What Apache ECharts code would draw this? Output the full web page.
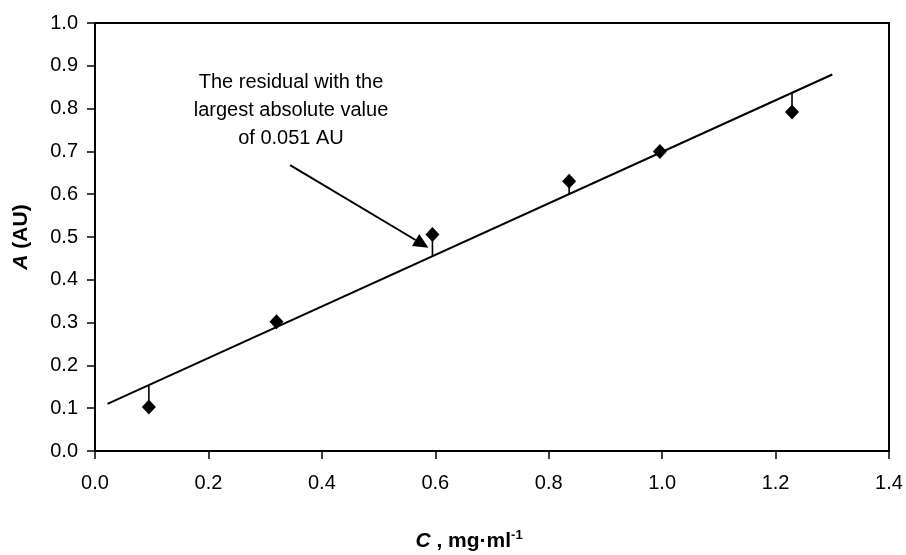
<!DOCTYPE html>
<html>
<head>
<meta charset="utf-8">
<script src="https://cdn.jsdelivr.net/npm/echarts@6/dist/echarts.min.js"></script>
<style>
  html, body { margin: 0; padding: 0; background: #fff; }
  #chart { width: 906px; height: 555px; }
</style>
</head>
<body>
<div id="chart"></div>
<script>
// Calibration data: concentration C (mg/ml) and measured absorbance A (AU)
const concentration = [0.095, 0.32, 0.595, 0.836, 0.996, 1.229];
const absorbance    = [0.103, 0.302, 0.506, 0.630, 0.700, 0.792];

// Least-squares calibration line A = intercept + slope * C
const fitIntercept = 0.097;
const fitSlope = 0.602;
const fitRange = [0.022, 1.30];

// Axis extents
const xMin = 0, xMax = 1.4, xStep = 0.2;
const yMin = 0, yMax = 1.0, yStep = 0.1;

const annotationText = 'The residual with the\nlargest absolute value\nof 0.051 AU';
// Arrow from the note to the point with the largest residual (data coords)
const arrowFrom = [0.344, 0.668];
const arrowTo = [0.588, 0.475];

const FONT = "'Liberation Sans', Arial, sans-serif";

const fitValue = c => fitIntercept + fitSlope * c;
const points = concentration.map((c, i) => [c, absorbance[i]]);
const fitLine = fitRange.map(c => [c, fitValue(c)]);

const chart = echarts.init(document.getElementById('chart'), null, { renderer: 'canvas' });

chart.setOption({
  animation: false,
  backgroundColor: '#fff',
  grid: {
    left: 95, right: 17, top: 23, bottom: 104,
    show: true, borderColor: '#000', borderWidth: 2, backgroundColor: 'transparent'
  },
  xAxis: {
    type: 'value', min: xMin, max: xMax, interval: xStep,
    axisLine: { show: true, onZero: false, lineStyle: { color: '#000', width: 2 } },
    axisTick: { show: true, inside: false, length: 8, lineStyle: { color: '#000', width: 1.5 } },
    splitLine: { show: false },
    axisLabel: {
      margin: 22, color: '#000', fontFamily: FONT, fontSize: 20,
      formatter: v => v.toFixed(1)
    }
  },
  yAxis: {
    type: 'value', min: yMin, max: yMax, interval: yStep,
    axisLine: { show: true, onZero: false, lineStyle: { color: '#000', width: 2 } },
    axisTick: { show: true, inside: false, length: 8, lineStyle: { color: '#000', width: 1.5 } },
    splitLine: { show: false },
    axisLabel: {
      margin: 17, color: '#000', fontFamily: FONT, fontSize: 20,
      formatter: v => v.toFixed(1)
    }
  },
  series: [
    {
      name: 'fit',
      type: 'line',
      data: fitLine,
      symbol: 'none',
      lineStyle: { color: '#000', width: 2 },
      z: 2
    },
    {
      name: 'residuals',
      type: 'custom',
      data: points,
      renderItem: (params, api) => {
        const c = api.value(0);
        const a = api.value(1);
        const p1 = api.coord([c, a]);
        const p2 = api.coord([c, fitValue(c)]);
        return {
          type: 'line',
          shape: { x1: p1[0], y1: p1[1], x2: p2[0], y2: p2[1] },
          style: { stroke: '#000', lineWidth: 1.6 }
        };
      },
      z: 3
    },
    {
      name: 'measured',
      type: 'scatter',
      data: points,
      symbol: 'diamond',
      symbolSize: [14, 15],
      itemStyle: { color: '#000', opacity: 1 },
      z: 4
    }
  ]
});

// Annotation note, arrow and axis titles
const from = chart.convertToPixel({ gridIndex: 0 }, arrowFrom);
const to = chart.convertToPixel({ gridIndex: 0 }, arrowTo);
const dx = to[0] - from[0], dy = to[1] - from[1];
const len = Math.sqrt(dx * dx + dy * dy);
const ux = dx / len, uy = dy / len;
const headLen = 15, headHalf = 7;
const base = [to[0] - ux * headLen, to[1] - uy * headLen];
const head = [
  [to[0], to[1]],
  [base[0] - uy * headHalf, base[1] + ux * headHalf],
  [base[0] + uy * headHalf, base[1] - ux * headHalf]
];

chart.setOption({
  graphic: [
    {
      type: 'text', x: 291, y: 68, z: 10,
      style: {
        text: annotationText, fill: '#000', font: '20px ' + FONT,
        align: 'center', verticalAlign: 'top', lineHeight: 28
      }
    },
    {
      type: 'line', z: 10,
      shape: { x1: from[0], y1: from[1], x2: base[0], y2: base[1] },
      style: { stroke: '#000', lineWidth: 2 }
    },
    {
      type: 'polygon', z: 10,
      shape: { points: head },
      style: { fill: '#000' }
    },
    {
      type: 'text', x: 21, y: 237, rotation: Math.PI / 2, z: 10,
      style: {
        text: '{i|A} (AU)', fill: '#000', font: 'bold 21px ' + FONT,
        align: 'center', verticalAlign: 'middle',
        rich: { i: { fontStyle: 'italic', fontWeight: 'bold', fontSize: 21, fontFamily: FONT } }
      }
    },
    {
      type: 'text', x: 469, y: 541, z: 10,
      style: {
        text: '{i|C} , mg·ml{s|-1}', fill: '#000', font: 'bold 21px ' + FONT,
        align: 'center', verticalAlign: 'middle', lineHeight: 24,
        rich: {
          i: { fontStyle: 'italic', fontWeight: 'bold', fontSize: 21, fontFamily: FONT },
          s: { fontWeight: 'bold', fontSize: 13, fontFamily: FONT, verticalAlign: 'top', lineHeight: 14 }
        }
      }
    }
  ]
});
</script>
</body>
</html>
